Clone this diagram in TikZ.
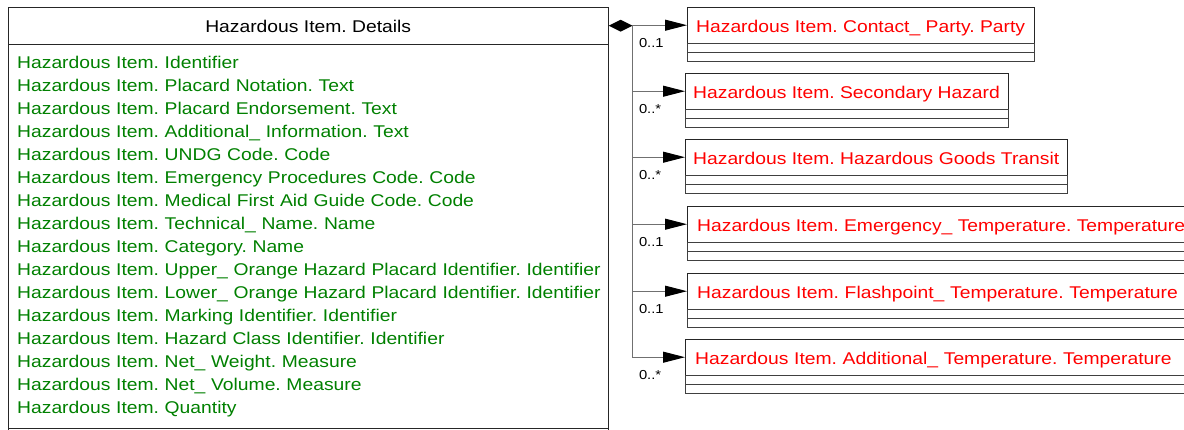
\documentclass[tikz,border=0pt]{standalone}
\usepackage{fontspec}
\setmainfont[FakeStretch=1.135]{Liberation Sans}
\usetikzlibrary{shapes.geometric,arrows.meta}

\definecolor{attrgreen}{RGB}{0,128,0}
\definecolor{clsred}{RGB}{255,0,0}
\definecolor{linkgray}{RGB}{112,112,112}

\tikzset{
    cls/.style={draw=black!85, anchor=north west, minimum height=36pt,
        inner xsep=10pt, inner ysep=0pt, text=clsred,
        font=\fontsize{17}{20}\selectfont, text height=14pt, text depth=0pt},
    compart/.style={draw=black!75, line width=0.8pt},
    assoc/.style={draw=linkgray, line width=1pt,
        -{Triangle[length=22pt,width=11pt,color=black]}},
    mult/.style={font=\fontsize{13}{15}\selectfont, inner sep=1pt, anchor=north west}
}

\begin{document}
\frenchspacing
\begin{tikzpicture}[x=1pt,y=-1pt]
        \clip (0,0) rectangle (1184,429);

        % main class
        \node[draw=black!85, anchor=north west, minimum width=600pt, minimum height=37pt,
            font=\fontsize{17}{20}\selectfont, text height=14pt, text depth=0pt]
            (main) at (8,7) {Hazardous Item. Details};
        \node[anchor=north west, text width=598pt, inner xsep=0pt,
            minimum height=383pt, align=left, text=attrgreen,
            font=\fontsize{17}{23}\selectfont]
            (attrs) at ([xshift=9pt]main.south west) {%
            \rule{0pt}{14pt}Hazardous Item. Identifier\\
            Hazardous Item. Placard Notation. Text\\
            Hazardous Item. Placard Endorsement. Text\\
            Hazardous Item. Additional\_ Information. Text\\
            Hazardous Item. UNDG Code. Code\\
            Hazardous Item. Emergency Procedures Code. Code\\
            Hazardous Item. Medical First Aid Guide Code. Code\\
            Hazardous Item. Technical\_ Name. Name\\
            Hazardous Item. Category. Name\\
            Hazardous Item. Upper\_ Orange Hazard Placard Identifier. Identifier\\
            Hazardous Item. Lower\_ Orange Hazard Placard Identifier. Identifier\\
            Hazardous Item. Marking Identifier. Identifier\\
            Hazardous Item. Hazard Class Identifier. Identifier\\
            Hazardous Item. Net\_ Weight. Measure\\
            Hazardous Item. Net\_ Volume. Measure\\
            Hazardous Item. Quantity};
        \draw[draw=black!85] (main.south west) -- ++(0,420) (main.south east) -- ++(0,420);
        \draw[draw=black!85] (main.south west |- attrs.south) -- (main.south east |- attrs.south);

        % composition diamond
        \node[diamond, fill=black, inner sep=0pt, minimum width=24pt, minimum height=12pt,
            anchor=west] (dia) at (main.east) {};

        % associated classes
        \node[cls, inner xsep=9pt] (b1) at (687,7) {Hazardous Item. Contact\_ Party. Party};
        \node[cls, inner xsep=8pt] (b2) at (685,73) {Hazardous Item. Secondary Hazard};
        \node[cls, inner xsep=8pt] (b3) at (685,139) {Hazardous Item. Hazardous Goods Transit};
        \node[cls] (b4) at (687,206) {Hazardous Item. Emergency\_ Temperature. Temperature};
        \node[cls, align=left, text width=490pt] (b5) at (687,273) {Hazardous Item. Flashpoint\_ Temperature. Temperature};
        \node[cls, align=left, text width=490pt] (b6) at (685,339) {Hazardous Item. Additional\_ Temperature. Temperature};

        \foreach \b/\m in {b1/{0..1},b2/{0..*},b3/{0..*},b4/{0..1},b5/{0..1},b6/{0..*}}{
            \draw[compart] (\b.south west) rectangle ([yshift=-18pt]\b.south east);
            \draw[compart] ([yshift=-9pt]\b.south west) -- ([yshift=-9pt]\b.south east);
            \draw[assoc] (dia.east) |- (\b.west);
            \node[mult, xshift=5pt, yshift=-12pt] (m\b) at (dia.east |- \b.west) {\m};
        }

    \end{tikzpicture}
\end{document}
